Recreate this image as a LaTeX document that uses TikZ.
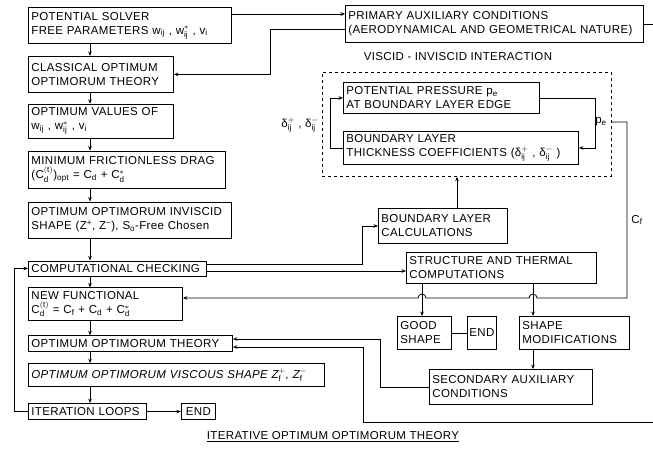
\documentclass[tikz,border=0pt]{standalone}
\usepackage{fontspec}
\setmainfont[LetterSpace=3]{Liberation Sans}
\usepackage{tikz}
\usetikzlibrary{positioning, arrows.meta}

\newcommand\boxfont{\fontsize{11.5}{14}\selectfont}
% superscript over subscript
\newcommand\ssc[2]{${}^{\mathrm{#1}}_{\mathrm{#2}}$}

\begin{document}
\begin{tikzpicture}[
    x=1pt, y=1pt,
    box/.style={draw, line width=0.9pt, align=left, inner xsep=3pt, inner ysep=1.5pt, font=\boxfont},
    endbox/.style={draw, line width=0.9pt, align=center, inner xsep=2pt, inner ysep=1.5pt, font=\boxfont},
    arrow/.style={-{Stealth[length=4.5pt, width=3.6pt]}, line width=0.8pt},
    link/.style={line width=0.8pt},
    lbl/.style={font=\boxfont, inner sep=1pt}
  ]
  \useasboundingbox (0,0) rectangle (653,-458);

  % left column
  \node[box, anchor=north west, text width=197pt, minimum height=36pt] (pot) at (28,-7)
    {POTENTIAL SOLVER\\FREE PARAMETERS w\textsubscript{ij} , w\ssc{*}{ij} , v\textsubscript{i}};
  \node[box, below=12pt of pot.south west, anchor=north west, text width=139pt, minimum height=36pt] (classical)
    {CLASSICAL OPTIMUM\\OPTIMORUM THEORY};
  \node[box, below=11pt of classical.south west, anchor=north west, text width=139pt, minimum height=34pt] (values)
    {OPTIMUM VALUES OF\\w\textsubscript{ij} , w\ssc{*}{ij} , v\textsubscript{i}};
  \node[box, below=12pt of values.south west, anchor=north west, text width=191pt, minimum height=37pt] (drag)
    {MINIMUM FRICTIONLESS DRAG\\(C\ssc{(t)}{d})\textsubscript{opt} = C\textsubscript{d} + C\ssc{*}{d}};
  \node[box, below=13pt of drag.south west, anchor=north west, text width=197pt, minimum height=36pt] (inviscid)
    {OPTIMUM OPTIMORUM INVISCID\\SHAPE (Z\textsuperscript{+}, Z\textsuperscript{−}), S\textsubscript{o}-Free Chosen};
  \node[box, below=22pt of inviscid.south west, anchor=north west, text width=172pt, minimum height=15pt] (check)
    {COMPUTATIONAL CHECKING};
  \node[box, below=11pt of check.south west, anchor=north west, text width=148pt, minimum height=33pt] (newfun)
    {NEW FUNCTIONAL\\C\ssc{(t)}{d} = C\textsubscript{f} + C\textsubscript{d} + C\ssc{*}{d}};
  \node[box, below=14pt of newfun.south west, anchor=north west, text width=198pt, minimum height=16pt] (oot)
    {OPTIMUM OPTIMORUM THEORY};
  \node[box, below=11pt of oot.south west, anchor=north west, text width=290pt, minimum height=23pt] (viscous)
    {\itshape OPTIMUM OPTIMORUM VISCOUS SHAPE Z\ssc{+}{f}, Z\ssc{-}{f}};
  \node[box, below=16pt of viscous.south west, anchor=north west, text width=112pt, minimum height=16pt] (iter)
    {ITERATION LOOPS};
  \node[endbox, right=34pt of iter, minimum width=34pt, minimum height=16pt] (endA) {END};

  % right side
  \node[box, anchor=north west, text width=292pt, minimum height=37pt] (primary) at (345,-5)
    {PRIMARY AUXILIARY CONDITIONS\\(AERODYNAMICAL AND GEOMETRICAL NATURE)};
  \node[lbl] (vii label) at (458,-57) {VISCID - INVISCID INTERACTION};
  \node[draw, dashed, line width=0.8pt, anchor=north west, minimum width=289pt, minimum height=104pt] (vii) at (322,-72) {};
  \node[box, anchor=north west, text width=190pt, minimum height=31pt] (pressure) at (343,-82)
    {POTENTIAL PRESSURE p\textsubscript{e}\\AT BOUNDARY LAYER EDGE};
  \node[box, anchor=north west, text width=229pt, minimum height=33pt] (thick) at (343,-131)
    {BOUNDARY LAYER\\THICKNESS COEFFICIENTS (δ\ssc{+}{ij} , δ\ssc{-}{ij} )};
  \node[box, anchor=north west, text width=123pt, minimum height=35pt] (blcalc) at (378,-208)
    {BOUNDARY LAYER\\CALCULATIONS};
  \node[box, anchor=north west, text width=184pt, minimum height=31pt] (struct) at (406,-252)
    {STRUCTURE AND THERMAL\\COMPUTATIONS};
  \node[box, anchor=north west, text width=48pt, minimum height=33pt] (good) at (397,-316)
    {GOOD\\SHAPE};
  \node[endbox, anchor=north west, minimum width=29pt, minimum height=33pt] (endB) at (467,-316) {END};
  \node[box, anchor=north west, text width=104pt, minimum height=33pt] (shapemod) at (519,-316)
    {SHAPE\\MODIFICATIONS};
  \node[box, anchor=north west, text width=157pt, minimum height=35pt] (secondary) at (429,-369)
    {SECONDARY AUXILIARY\\CONDITIONS};

  % labels
  \node[lbl] (delta) at (300,-125) {δ\ssc{+}{ij} , δ\ssc{-}{ij}};
  \node[lbl] (pe) at (601,-122) {p\textsubscript{e}};
  \node[lbl] (cf) at (637,-220) {C\textsubscript{f}};
  \node[lbl] (title) at (333,-437) {\underline{ITERATIVE OPTIMUM OPTIMORUM THEORY}};

  \coordinate (offA) at (653,-24);
  \coordinate (offB) at (653,-422);

  % left column flow
  \foreach \a/\b in {pot/classical, classical/values, values/drag, drag/inviscid,
                     inviscid/check, check/newfun, newfun/oot, oot/viscous, viscous/iter}
    \draw[arrow] (\a.south -| 90,0) -- (\b.north -| 90,0);
  \draw[arrow] (iter) -- (endA);
  \draw[arrow] (iter.west) -- ++(-14,0) |- (check.west);

  % auxiliary conditions
  \draw[arrow] (pot.east |- 0,-14) -- (primary.west |- 0,-14);
  \draw[arrow] (primary.west |- 0,-29) -- (270,-29) |- (classical.east);
  \draw[link] (primary.east |- offA) -- (offA);

  % viscid - inviscid interaction
  \draw[arrow] (thick.west) -- ++(-13,0) |- (pressure.west);
  \draw[arrow] (pressure.east) -- ++(55,0) |- (thick.east);
  \draw[arrow] (blcalc.north -| 457,0) -- (vii.south -| 457,0);
  \draw[arrow] (vii.east |- 0,-122) -- (627,-122) -- (627,-298) -- (537,-298)
    arc[start angle=0, end angle=180, radius=4] -- (426,-298)
    arc[start angle=0, end angle=180, radius=4] -- (newfun.east |- 0,-298);

  % checking
  \draw[arrow] (check.east |- 0,-264) -- (362,-264) |- (blcalc.west);
  \draw[arrow] (check.east |- 0,-271) -- (struct.west |- 0,-271);
  \draw[arrow] (struct.south -| 422,0) -- (good.north -| 422,0);
  \draw[arrow] (struct.south -| 533,0) -- (shapemod.north -| 533,0);
  \draw[link] (good) -- (endB);
  \draw[arrow] (shapemod.south -| 533,0) -- (secondary.north -| 533,0);
  \draw[arrow] (secondary.west) -| (380,-339) -- (oot.east |- 0,-339);
  \draw[arrow] (offB) -| (363,-347) -- (oot.east |- 0,-347);
\end{tikzpicture}
\end{document}
